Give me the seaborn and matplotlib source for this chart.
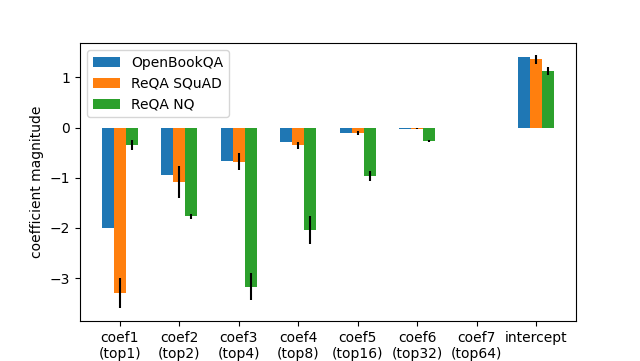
import numpy as np
import pandas as pd
import matplotlib
matplotlib.use("Agg")
import matplotlib.pyplot as plt
import seaborn as sns

# categorias del eje x
coefs = ["coef1\n(top1)", "coef2\n(top2)", "coef3\n(top4)", "coef4\n(top8)",
         "coef5\n(top16)", "coef6\n(top32)", "coef7\n(top64)", "intercept"]
datasets = ["OpenBookQA", "ReQA SQuAD", "ReQA NQ"]

# valores
obqa = [-2.00, -0.95, -0.67, -0.29, -0.11, -0.03, 0.0, 1.40]
squad = [-3.30, -1.09, -0.68, -0.35, -0.11, -0.02, 0.0, 1.36]
nq = [-0.35, -1.77, -3.17, -2.04, -0.97, -0.27, 0.0, 1.12]

# errores (OpenBookQA sin barra de error)
obqa_err = [0, 0, 0, 0, 0, 0, 0, 0]
squad_err = [0.30, 0.32, 0.17, 0.07, 0.04, 0.01, 0, 0.09]
nq_err = [0.10, 0.05, 0.27, 0.28, 0.10, 0.02, 0, 0.08]

errores = [obqa_err, squad_err, nq_err]

df = pd.DataFrame({
    "coef": coefs * len(datasets),
    "dataset": np.repeat(datasets, len(coefs)),
    "valor": obqa + squad + nq,
})

colores = ["#1f77b4", "#ff7f0e", "#2ca02c"]

fig, ax = plt.subplots(figsize=(6.4, 3.61), dpi=100)
sns.barplot(data=df, x="coef", y="valor", hue="dataset", palette=colores,
            saturation=1, errorbar=None, width=0.6, linewidth=0, ax=ax)

# barras de error en el extremo de cada barra
for cont, err in zip(ax.containers, errores):
    xs = np.array([p.get_x() + p.get_width() / 2 for p in cont.patches])
    ys = np.array([p.get_y() + p.get_height() for p in cont.patches])
    e = np.array(err, dtype=float)
    mask = e > 0
    ax.errorbar(xs[mask], ys[mask], yerr=e[mask], fmt="none",
                ecolor="black", elinewidth=1.5, capsize=0)

ax.set_xlim(-0.67, 7.67)
ax.set_ylim(-3.86, 1.68)
ax.set_xlabel("")
ax.set_ylabel("coefficient magnitude")
ax.legend(loc="upper left")

plt.savefig("out.png")
plt.close()
